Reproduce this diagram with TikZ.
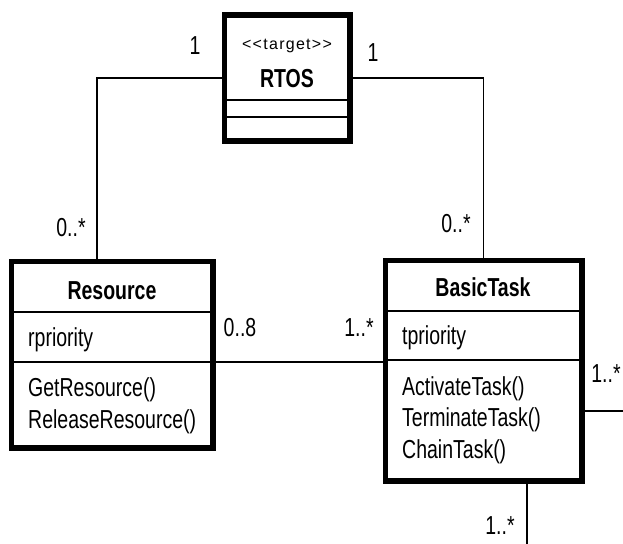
\documentclass[tikz,border=0pt]{standalone}
\usepackage{fontspec}
\setmainfont{Liberation Sans}[FakeStretch=0.75]
\newfontfamily\stereofont{Liberation Sans}[FakeStretch=1.0,LetterSpace=8]
\newcommand{\umlfont}{\fontsize{26}{30}\selectfont}
\newcommand{\umlstereo}{\stereofont\fontsize{16}{19}\selectfont}

\tikzset{
  classbox/.style={draw, fill=white, line width=3.5pt, inner sep=0pt},
  divider/.style={line width=2pt},
  assoc/.style={line width=1.5pt},
  classname/.style={font=\umlfont\bfseries, inner sep=0pt, text height=18.5pt, text depth=0pt},
  member/.style={font=\umlfont, anchor=west, inner sep=0pt, text height=18.5pt, text depth=5.5pt},
  mult/.style={font=\umlfont, inner sep=0pt, text height=18.5pt, text depth=0pt},
}

\begin{document}
\begin{tikzpicture}[x=1pt, y=-1pt]
  \useasboundingbox (0,0) rectangle (623,543);
  \clip (0,0) rectangle (623,543);

  % class boxes
  \node[classbox, minimum width=124pt, minimum height=124pt] (rtos) at (287,78) {};
  \node[classbox, minimum width=200pt, minimum height=185pt] (res) at (112,354.5) {};
  \node[classbox, minimum width=195pt, minimum height=219pt] (task) at (483.5,370.5) {};

  % free ends of the stub associations
  \coordinate (resDiv) at (12,362);
  \coordinate (rightEnd) at (630,411);
  \coordinate (bottomEnd) at (527,550);

  % associations
  \draw[assoc] (rtos.west) -| ([xshift=-15pt]res.north);
  \draw[assoc] (rtos.east) -| (task.north);
  \draw[assoc] (res.east |- resDiv) -- (task.west |- resDiv);
  \draw[assoc] (task.east |- rightEnd) -- (rightEnd);
  \draw[assoc] (task.south -| bottomEnd) -- (bottomEnd);

  % redraw box outlines on top of the line ends
  \draw[line width=3.5pt] (rtos.south west) rectangle (rtos.north east);
  \draw[line width=3.5pt] (res.south west) rectangle (res.north east);
  \draw[line width=3.5pt] (task.south west) rectangle (task.north east);

  % compartments
  \draw[divider] (rtos.west |- 0,100) -- (rtos.east |- 0,100);
  \draw[divider] (rtos.west |- 0,117) -- (rtos.east |- 0,117);
  \draw[divider] (res.west |- 0,312) -- (res.east |- 0,312);
  \draw[divider] (res.west |- resDiv) -- (res.east |- resDiv);
  \draw[divider] (task.west |- 0,311) -- (task.east |- 0,311);
  \draw[divider] (task.west |- 0,360) -- (task.east |- 0,360);

  % RTOS
  \node[inner sep=0pt, font=\umlstereo] (rtosStereo) at (287,46) {<{}<target>{}>};
  \node[classname] (rtosName) at (287,78) {RTOS};

  % Resource
  \node[classname] (resName) at (112,290) {Resource};
  \node[member] (resAttr) at (28,340) {rpriority};
  \node[member] (resOp1) at (28,390) {GetResource()};
  \node[member] (resOp2) at (28,422) {ReleaseResource()};

  % BasicTask
  \node[classname] (taskName) at (483,287) {BasicTask};
  \node[member] (taskAttr) at (402,338) {tpriority};
  \node[member] (taskOp1) at (402,389) {ActivateTask()};
  \node[member] (taskOp2) at (402,420) {TerminateTask()};
  \node[member] (taskOp3) at (402,452) {ChainTask()};

  % multiplicities
  \node[mult] (mRtosL) at (195,45) {1};
  \node[mult] (mRtosR) at (373,52) {1};
  \node[mult] (mResTop) at (71,227) {0..*};
  \node[mult] (mTaskTop) at (456,223) {0..*};
  \node[mult] (mResRight) at (240,327) {0..8};
  \node[mult] (mTaskLeft) at (359,327) {1..*};
  \node[mult] (mTaskRight) at (606,373) {1..*};
  \node[mult] (mTaskBottom) at (500,525) {1..*};
\end{tikzpicture}
\end{document}
